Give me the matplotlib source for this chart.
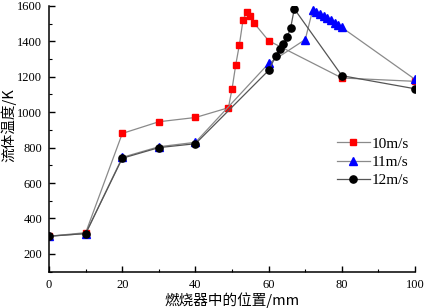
import matplotlib.pyplot as plt
from matplotlib.ticker import MultipleLocator

# position in burner (mm) and fluid temperature (K)
x_10 = [0, 10, 20, 30, 40, 49, 50, 51, 52, 53, 54, 55, 56, 60, 80, 100]
t_10 = [300, 320, 880, 946, 970, 1025, 1132, 1267, 1381, 1521, 1566, 1540, 1503, 1403, 1193, 1174]

x_11 = [0, 10, 20, 30, 40, 60, 70, 72, 73, 74, 75, 76, 77, 78, 79, 80, 100]
t_11 = [300, 315, 745, 805, 830, 1275, 1410, 1575, 1568, 1556, 1544, 1532, 1519, 1506, 1493, 1478, 1185]

x_12 = [0, 10, 20, 30, 40, 60, 62, 63, 64, 65, 66, 67, 80, 100]
t_12 = [300, 315, 740, 800, 822, 1236, 1319, 1356, 1385, 1422, 1475, 1583, 1206, 1132]

labels = ["10m/s", "11m/s", "12m/s"]

serif = ["Liberation Serif", "Noto Sans CJK SC"]
cjk = ["Noto Sans CJK SC", "Liberation Serif"]
plt.rcParams['font.family'] = serif

fig = plt.figure(figsize=(4.27, 3.08), dpi=100)
ax = fig.add_axes([0.115, 0.118, 0.857, 0.863])

ax.plot(x_10, t_10, color="#8a8a8a", lw=0.9, marker="s", ms=5,
        mfc="red", mec="red", label=labels[0])
ax.plot(x_11, t_11, color="#8a8a8a", lw=0.9, marker="^", ms=6,
        mfc="blue", mec="blue", label=labels[1])
ax.plot(x_12, t_12, color="#555555", lw=0.9, marker="o", ms=5.2,
        mfc="black", mec="black", label=labels[2])

ax.set_xlim(0, 100)
ax.set_ylim(100, 1600)
ax.xaxis.set_major_locator(MultipleLocator(20))
ax.xaxis.set_minor_locator(MultipleLocator(10))
ax.yaxis.set_major_locator(MultipleLocator(200))
ax.yaxis.set_minor_locator(MultipleLocator(100))
ax.set_yticks([200, 400, 600, 800, 1000, 1200, 1400, 1600])

ax.spines['top'].set_visible(False)
ax.spines['right'].set_visible(False)
ax.spines['left'].set_linewidth(1.1)
ax.spines['bottom'].set_linewidth(1.1)
ax.tick_params(which='major', direction='in', length=4, width=1, labelsize=9, pad=5)
ax.tick_params(which='minor', direction='in', length=2, width=0.8)

ax.set_xlabel("燃烧器中的位置/mm", family=cjk, fontsize=10.5, labelpad=1)
ax.set_ylabel("流体温度/K", family=cjk, fontsize=10.5, labelpad=2)
ax.yaxis.set_label_coords(-0.088, 0.55)

ax.legend(loc='upper right', bbox_to_anchor=(1.0, 0.53), frameon=False,
          fontsize=11, handlelength=2.2, handletextpad=0.1, labelspacing=0.3,
          borderaxespad=0)

fig.savefig("out.png", dpi=100)
